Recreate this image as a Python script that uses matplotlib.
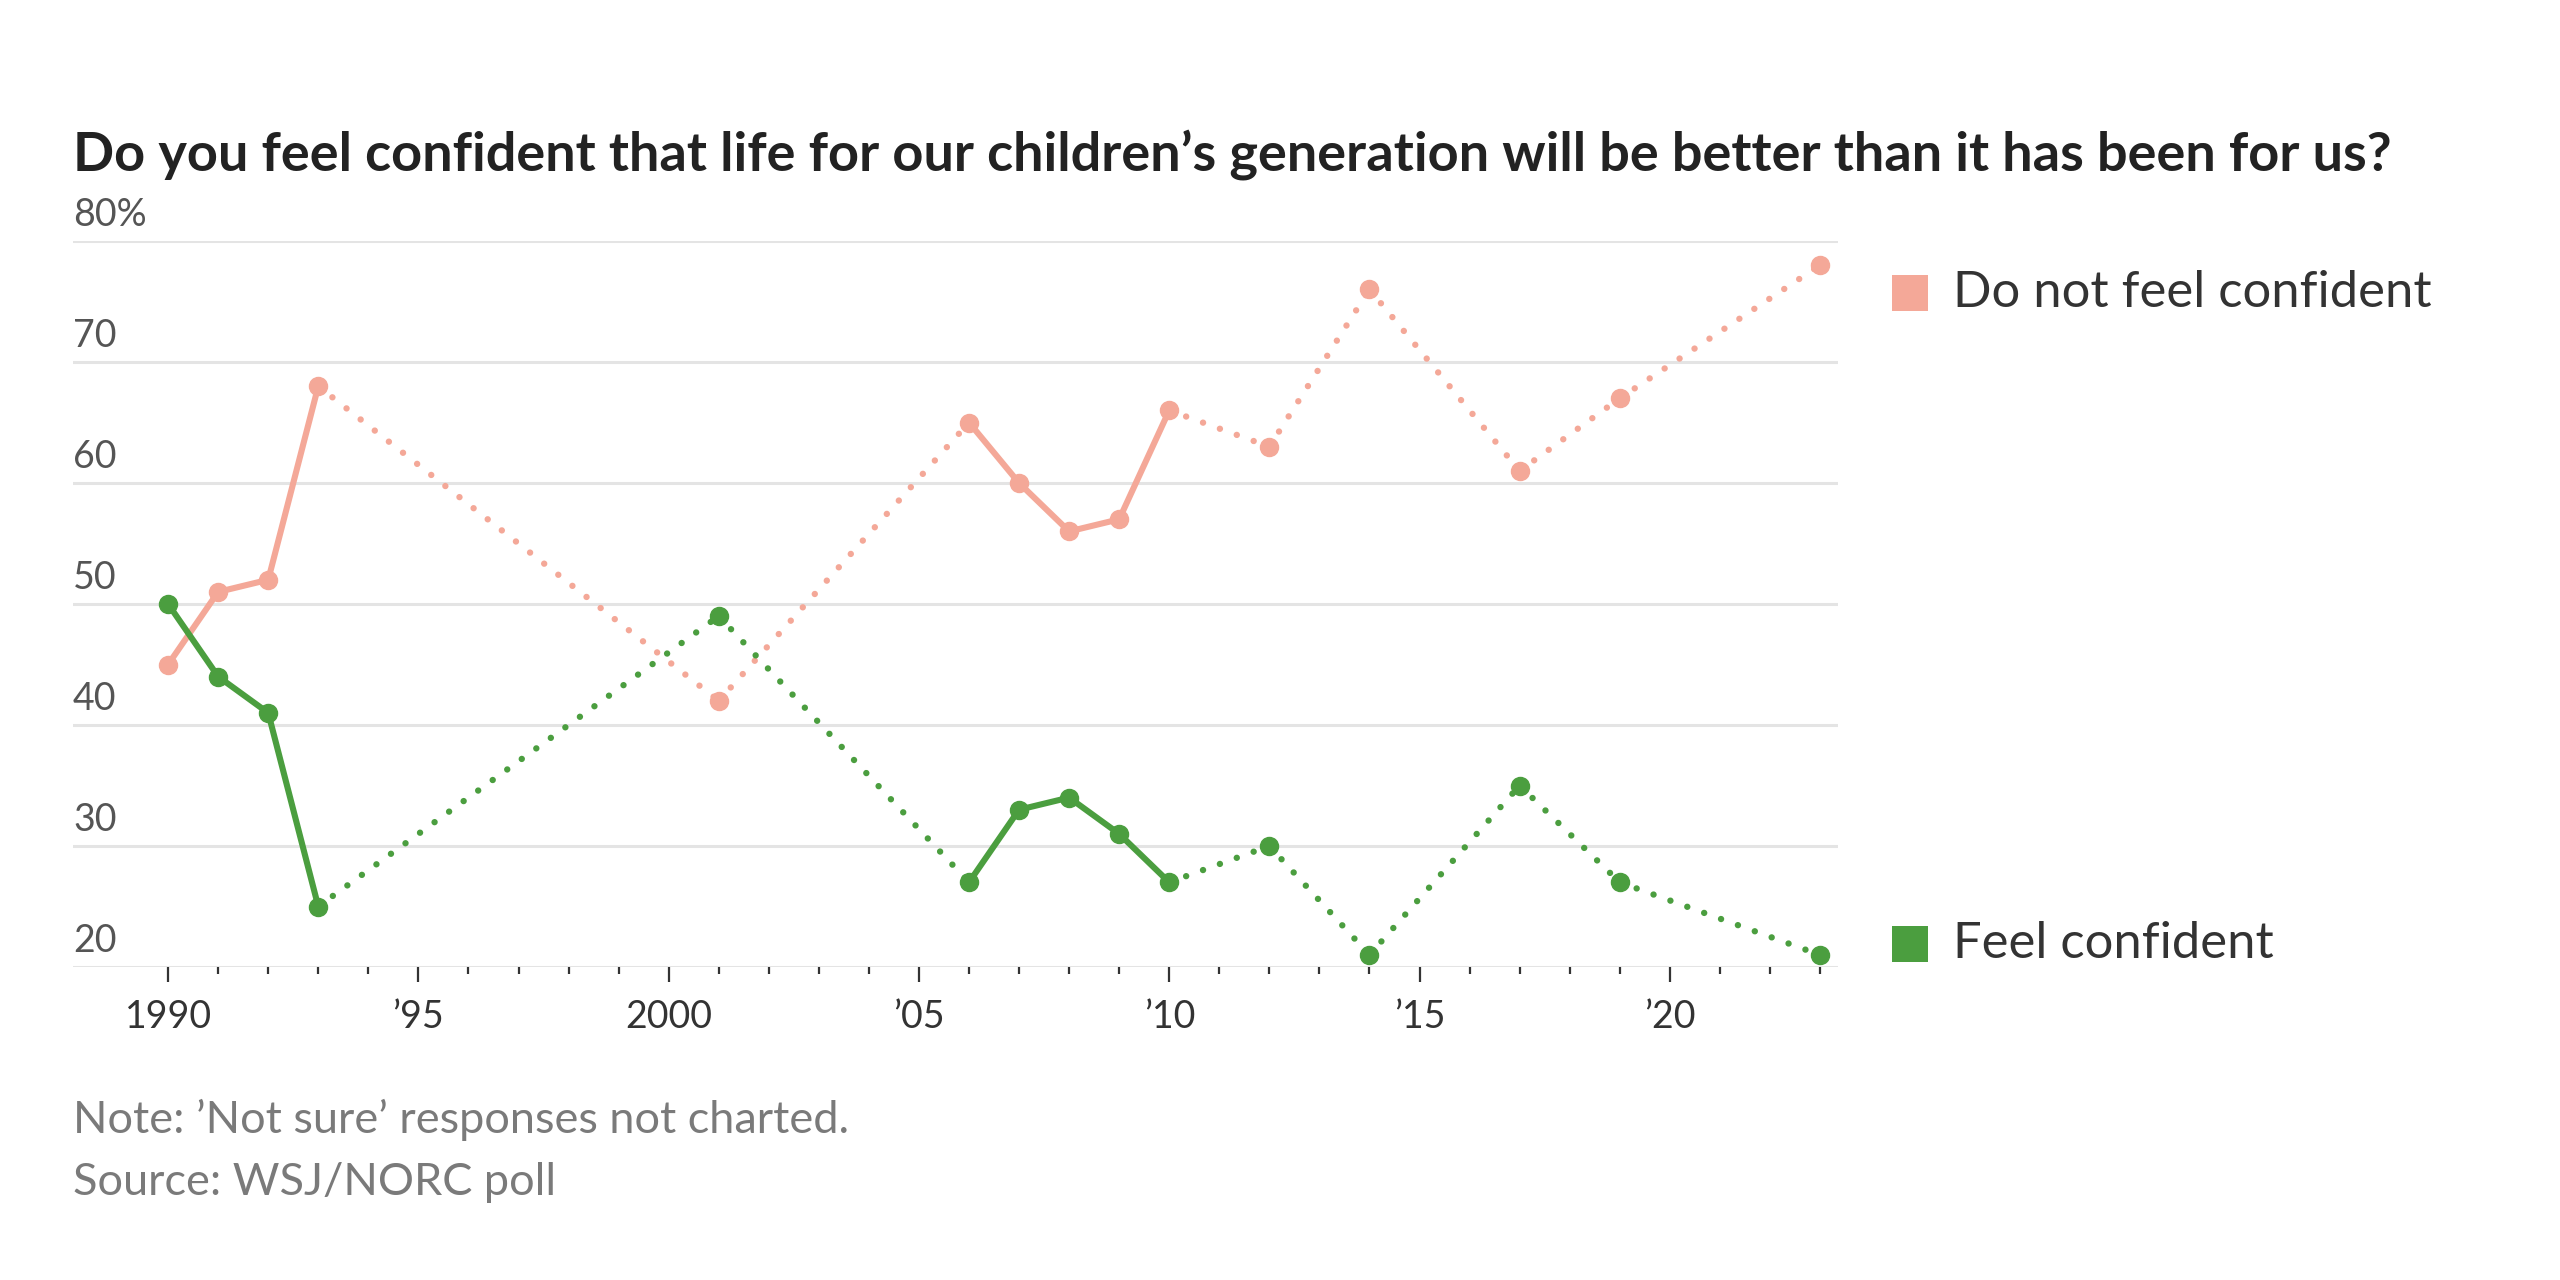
import matplotlib
matplotlib.use("Agg")
from matplotlib import pyplot as plt
from matplotlib import transforms

plt.rcParams['font.family'] = ['Lato', 'DejaVu Sans']

# survey years and shares (%)
years = [1990, 1991, 1992, 1993, 2001, 2006, 2007, 2008, 2009, 2010, 2012, 2014, 2017, 2019, 2023]
not_confident = [45, 51, 52, 68, 42, 65, 60, 56, 57, 66, 63, 76, 61, 67, 78]
confident = [50, 44, 41, 25, 49, 27, 33, 34, 31, 27, 30, 21, 35, 27, 21]

series_names = ["Do not feel confident", "Feel confident"]
series_colors = ["#F4A898", "#4B9E3F"]

y_ticks = [20, 30, 40, 50, 60, 70, 80]
y_tick_labels = ["20", "30", "40", "50", "60", "70", "80%"]
x_major = [1990, 1995, 2000, 2005, 2010, 2015, 2020]
x_major_labels = ["1990", "\u201995", "2000", "\u201905", "\u201910", "\u201915", "\u201920"]

title = "Do you feel confident that life for our children\u2019s generation will be better than it has been for us?"
note = "Note: \u2019Not sure\u2019 responses not charted."
source = "Source: WSJ/NORC poll"

W, H = 2560, 1280
fig = plt.figure(figsize=(W / 100, H / 100), dpi=100)
ax = fig.add_axes([73 / W, 1 - 967 / H, (1838 - 73) / W, (967 - 241) / H])
ax.set_xlim(1988.1, 2023.36)
ax.set_ylim(20, 80)

for yv in y_ticks:
    ax.axhline(yv, color="#e4e4e4", lw=2.2, zorder=1)

# lines: solid between consecutive years, dotted across gaps
for values, color in zip([not_confident, confident], series_colors):
    for i in range(len(years) - 1):
        xs = years[i:i + 2]
        ys = values[i:i + 2]
        if years[i + 1] - years[i] == 1:
            ax.plot(xs, ys, color=color, lw=4.4, solid_capstyle="round", zorder=3)
        else:
            ax.plot(xs, ys, color=color, lw=4.6, linestyle=(0, (0.01, 2.8)),
                    dash_capstyle="round", zorder=3)
    ax.plot(years, values, linestyle="none", marker="o", ms=13, color=color,
            zorder=4, clip_on=False)

for s in ax.spines.values():
    s.set_visible(False)
ax.set_yticks([])

ax.set_xticks(x_major)
ax.set_xticklabels(x_major_labels)
ax.set_xticks(list(range(1990, 2024)), minor=True)
ax.tick_params(axis="x", which="major", length=11, width=1.6, color="#333333",
               labelsize=27, labelcolor="#333333", pad=12)
ax.tick_params(axis="x", which="minor", length=5, width=1.6, color="#333333")

# y labels sit above the gridlines on the left
offset = transforms.ScaledTranslation(0, 8 / 100, fig.dpi_scale_trans)
ytrans = transforms.blended_transform_factory(ax.transAxes, ax.transData) + offset
for yv, lab in zip(y_ticks, y_tick_labels):
    ax.text(0, yv, lab, transform=ytrans, ha="left", va="bottom",
            fontsize=27, color="#555555")

# legend at right
legend_y = [0.928, 0.032]
for name, color, ly in zip(series_names, series_colors, legend_y):
    ax.scatter([1.0408], [ly], marker="s", s=640, color=color, transform=ax.transAxes,
               clip_on=False, linewidths=0)
    ax.text(1.0652, ly, name, transform=ax.transAxes, ha="left", va="center",
            fontsize=36.5, color="#333333")

fig.text(73 / W, 1 - 170 / H, title, fontsize=39, fontweight="bold", color="#222222",
         va="baseline", ha="left")
fig.text(73 / W, 1 - 1133 / H, note, fontsize=32.5, color="#7a7a7a", va="baseline", ha="left")
fig.text(73 / W, 1 - 1195 / H, source, fontsize=32.5, color="#7a7a7a", va="baseline", ha="left")

fig.savefig("out.png", dpi=100, facecolor="white")
